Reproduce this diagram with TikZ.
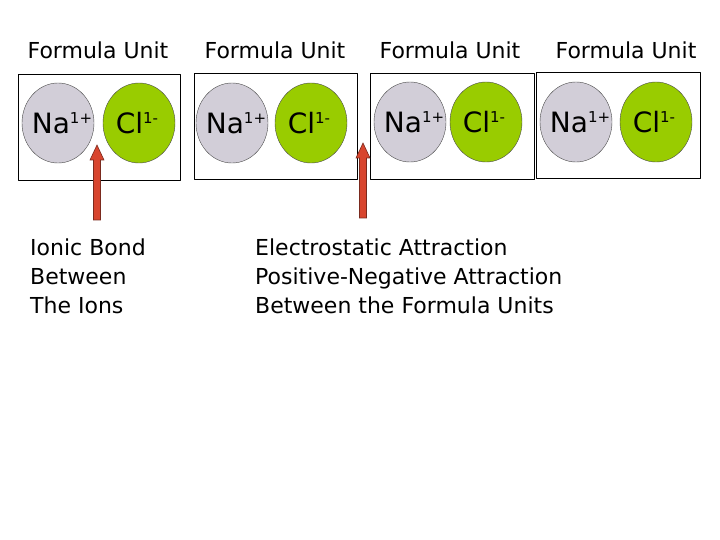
\documentclass[tikz,border=0pt]{standalone}
\usepackage{fontspec}
\setmainfont{DejaVu Sans}
\usetikzlibrary{shapes.geometric}
\definecolor{iongray}{HTML}{D2CED8}
\definecolor{iongreen}{HTML}{99CC00}
\definecolor{arrowred}{HTML}{D8452E}
\definecolor{arrowedge}{HTML}{7A2A1E}

\tikzset{
  unitbox/.style={draw=black, line width=0.6pt, minimum height=106pt, inner sep=0pt},
  ion/.style={ellipse, draw=black!70, line width=0.4pt, minimum width=72pt, minimum height=80pt, inner sep=0pt},
  sodium/.style={ion, fill=iongray},
  chlorine/.style={ion, fill=iongreen},
  iontext/.style={inner sep=0pt, font=\fontsize{28}{28}\selectfont},
  unitlabel/.style={inner sep=0pt, font=\fontsize{22}{26}\selectfont},
  caption/.style={align=left, anchor=west, inner sep=0pt, font=\fontsize{22}{29}\selectfont},
  bondarrow/.style={fill=arrowred, draw=arrowedge, line width=0.6pt, line join=miter}
}
\newcommand{\chg}[1]{\raisebox{10pt}{\fontsize{15}{15}\selectfont #1}}

\begin{document}
\begin{tikzpicture}[line cap=round,line join=round,x=1pt,y=-1pt]
\useasboundingbox (0,0) rectangle (720,540);

		% formula units
		\foreach \i/\bx/\by/\bw/\nx/\cx/\cy/\tx in {1/99/127/162/58/139/123/98,2/275.5/126.5/163/232/311/123/275,3/452/126.5/164/410/486/122/450,4/618/125.5/164/576/656/122/626}
		{
		\node[unitbox, minimum width=\bw pt] (box\i) at (\bx,\by) {};
		\node[unitlabel] (unit\i) at (\tx,50) {Formula Unit};
		\node[sodium] (na\i) at (\nx,\cy) {};
		\node[chlorine] (cl\i) at (\cx,\cy) {};
		\node[iontext, xshift=4pt] (natext\i) at (na\i) {Na\chg{1+}};
		\node[iontext, xshift=-2pt] (cltext\i) at (cl\i) {Cl\chg{1-}};
		}

		% pointers
		\coordinate (tip1) at (97,145);
		\coordinate (tip2) at (363,143);
		\foreach \t in {tip1,tip2}
		{
		\filldraw[bondarrow] (\t) -- ++(7,15) -- ++(-3.5,0) -- ++(0,60) -- ++(-7,0) -- ++(0,-60) -- ++(-3.5,0) -- cycle;
		}

		% captions
		\node[caption] (ionic) at (30,276) {Ionic Bond\\Between\\The Ions};
		\node[caption] (attract) at (255,276) {Electrostatic Attraction\\Positive-Negative Attraction\\Between the Formula Units};

\end{tikzpicture}
\end{document}
